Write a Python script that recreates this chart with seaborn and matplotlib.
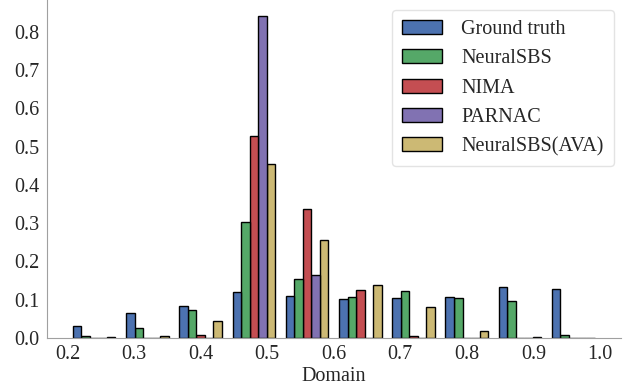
import pandas as pd
import numpy as np
import matplotlib.pyplot as plt
import seaborn as sns

# ── data ───────────────────────────────────────────────────────
bin_centers = [0.24, 0.32, 0.40, 0.48, 0.56, 0.64, 0.72, 0.80, 0.88, 0.96]
methods = ['Ground truth', 'NeuralSBS', 'NIMA', 'PARNAC', 'NeuralSBS(AVA)']

ground_truth = [0.031, 0.065, 0.084, 0.120, 0.111, 0.102, 0.105, 0.107, 0.133, 0.129]
neural_sbs   = [0.006, 0.026, 0.072, 0.303, 0.153, 0.108, 0.122, 0.104, 0.098, 0.009]
nima         = [0.000, 0.001, 0.009, 0.527, 0.336, 0.125, 0.006, 0.000, 0.000, 0.000]
parnac       = [0.000, 0.000, 0.000, 0.841, 0.164, 0.000, 0.000, 0.000, 0.000, 0.000]
neural_ava   = [0.002, 0.006, 0.044, 0.455, 0.255, 0.138, 0.080, 0.019, 0.003, 0.000]

series = [ground_truth, neural_sbs, nima, parnac, neural_ava]
colors = ['#4C72B0', '#55A868', '#C44E52', '#8172B2', '#CCB974']

rows = []
for name, vals in zip(methods, series):
    for c, v in zip(bin_centers, vals):
        rows.append({'domain': c, 'freq': v, 'method': name})
df = pd.DataFrame(rows)

# ── style ──────────────────────────────────────────────────────
sns.set_style('white', {'axes.edgecolor': '#a0a0a0'})
plt.rcParams['font.family'] = ['Liberation Serif', 'DejaVu Serif']
plt.rcParams['font.size'] = 14.5

fig, ax = plt.subplots(figsize=(6.32, 3.89), dpi=100)
fig.subplots_adjust(left=0.074, right=0.982, top=1.0, bottom=0.131)

sns.histplot(data=df, x='domain', weights='freq', hue='method', hue_order=methods,
             bins=10, binrange=(0.2, 1.0), multiple='dodge', shrink=0.8,
             palette=colors, alpha=1, edgecolor='black', linewidth=1, ax=ax)

sns.despine(ax=ax)
ax.set_xlabel('Domain', fontsize=14.5, labelpad=2)
ax.set_ylabel('')
ax.set_xticks([0.2, 0.3, 0.4, 0.5, 0.6, 0.7, 0.8, 0.9, 1.0])
ax.set_yticks(np.arange(0, 0.81, 0.1))
ax.tick_params(axis='both', labelsize=14.5, length=0, pad=5)

sns.move_legend(ax, 'upper right', bbox_to_anchor=(0.988, 0.97), title=None,
                fontsize=14.5, frameon=True, handlelength=2.0, labelspacing=0.5,
                borderpad=0.5, handletextpad=0.95, borderaxespad=0)
leg = ax.get_legend()
leg.get_frame().set_edgecolor('#dddddd')
for h in leg.legend_handles:
    h.set_edgecolor('black')
    h.set_linewidth(1)

plt.savefig('out.png', dpi=100)
